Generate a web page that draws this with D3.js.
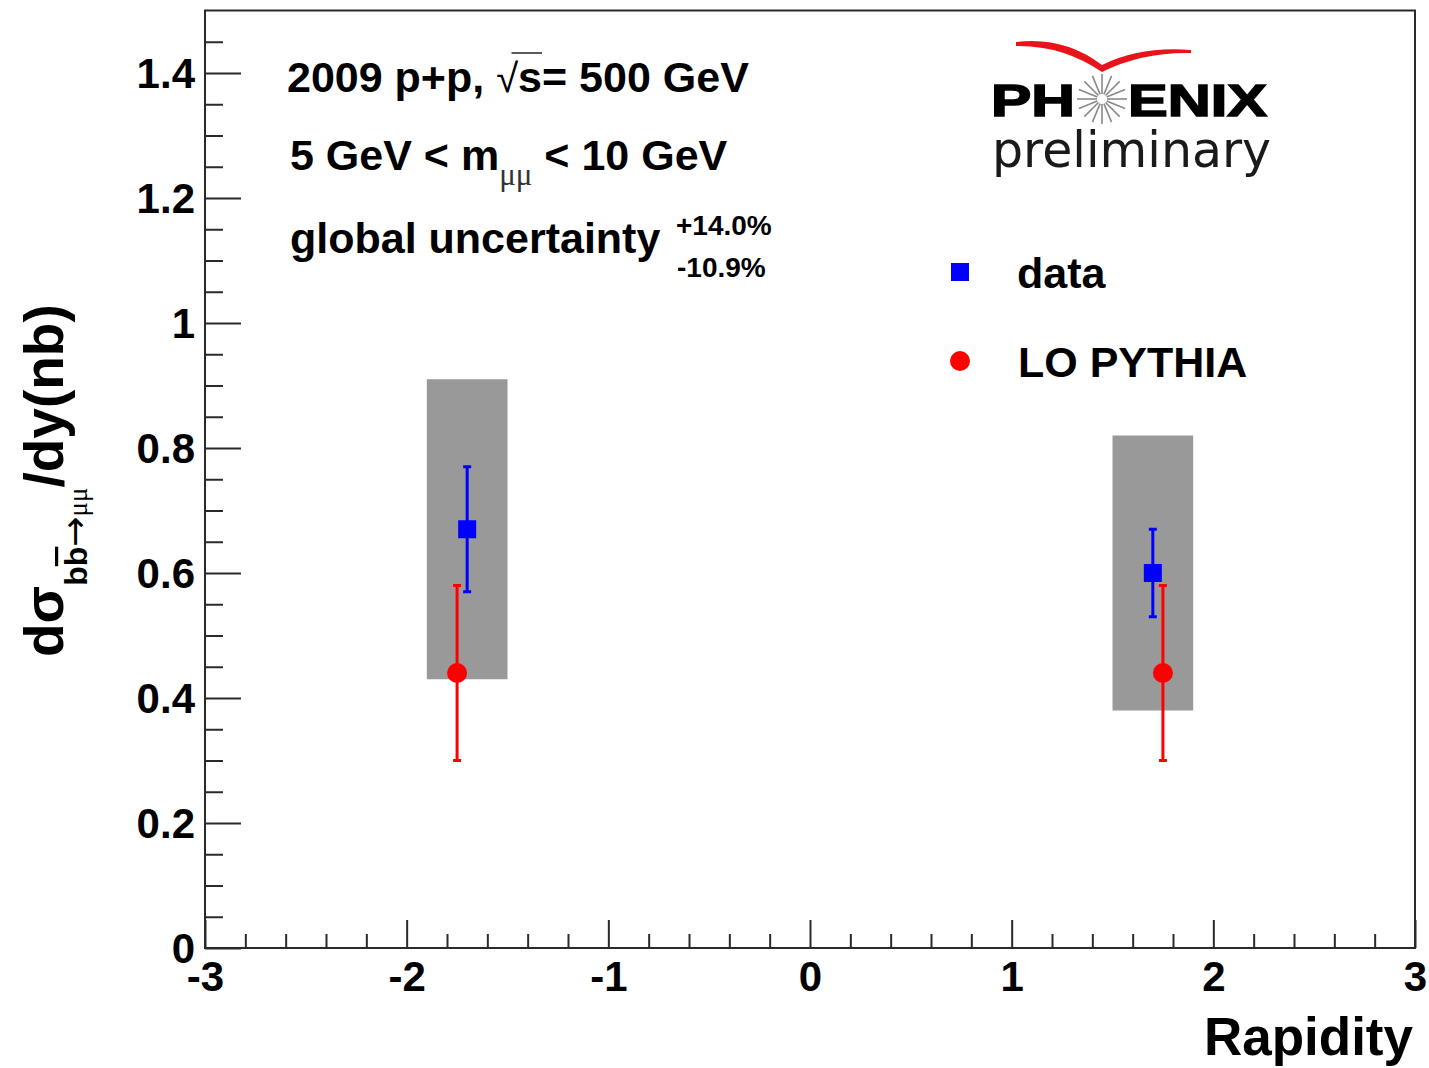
<!DOCTYPE html>
<html>
<head>
<meta charset="utf-8">
<script src="https://cdn.jsdelivr.net/npm/d3@7"></script>
<style>
  html, body { margin: 0; padding: 0; background: #fff; }
  svg { display: block; }
  text { font-family: "Liberation Sans", Arial, Helvetica, sans-serif; }
</style>
</head>
<body>
<svg id="chart" width="1429" height="1068"></svg>
<script>
// ---- data ----
const xTicks = [-3, -2, -1, 0, 1, 2, 3];
const yTicks = [0, 0.2, 0.4, 0.6, 0.8, 1.0, 1.2, 1.4];
const dataRapidity = [-1.7, 1.7];
const dataValue = [0.67, 0.60];
const dataError = [0.10, 0.07];
const sysXLow = [-1.9, 1.5];
const sysXHigh = [-1.5, 1.9];
const sysYLow = [0.43, 0.38];
const sysYHigh = [0.91, 0.82];
const pythiaRapidity = [-1.75, 1.75];
const pythiaValue = [0.44, 0.44];
const pythiaErrUp = [0.14, 0.14];
const pythiaErrDown = [0.14, 0.14];
const legendLabels = ["data", "LO PYTHIA"];

// ---- layout ----
const svg = d3.select("#chart");
const L = 205, R = 1415, T = 10.5, B = 948;
const x = d3.scaleLinear().domain([-3, 3]).range([L, R]);
const y = d3.scaleLinear().domain([0, 1.5]).range([B, T]);
const axisColor = "#2a2a2a";
const blue = "#0000ff", red = "#ff0000";

// frame
svg.append("rect").attr("x", L).attr("y", T).attr("width", R - L).attr("height", B - T)
  .attr("fill", "none").attr("stroke", axisColor).attr("stroke-width", 2);

// x axis
const xMinor = d3.range(-3, 3.001, 0.2).map(v => +v.toFixed(2)).filter(v => !xTicks.includes(v));
const gxm = svg.append("g").attr("transform", `translate(0,${B})`)
  .call(d3.axisBottom(x).tickValues(xMinor).tickSize(-14).tickFormat(""));
const gx = svg.append("g").attr("transform", `translate(0,${B})`)
  .call(d3.axisBottom(x).tickValues(xTicks).tickSize(-28).tickPadding(13).tickFormat(d => String(d)));
// y axis
const yMinor = d3.range(0, 1.5, 0.05).map(v => +v.toFixed(2)).filter(v => !yTicks.some(t => Math.abs(t - v) < 1e-6) && v > 0);
const gym = svg.append("g").attr("transform", `translate(${L},0)`)
  .call(d3.axisLeft(y).tickValues(yMinor).tickSize(-18).tickFormat(""));
const gy = svg.append("g").attr("transform", `translate(${L},0)`)
  .call(d3.axisLeft(y).tickValues(yTicks).tickSize(-36).tickPadding(10)
    .tickFormat(d => d === 0 ? "0" : String(+d.toFixed(1))));
[gx, gxm, gy, gym].forEach(g => {
  g.select(".domain").remove();
  g.selectAll(".tick line").attr("stroke", axisColor).attr("stroke-width", 2);
  g.selectAll(".tick text").attr("fill", "#000").attr("font-size", 42).attr("font-weight", "bold")
    .style("font-family", '"Liberation Sans", Arial, sans-serif');
});
gy.selectAll(".tick text").attr("dy", "0.34em");

// axis titles
svg.append("text").attr("x", 1413).attr("y", 1055).attr("text-anchor", "end")
  .attr("font-size", 53).attr("font-weight", "bold").text("Rapidity");

const yt = svg.append("text").attr("transform", "translate(63,657) rotate(-90)")
  .attr("font-size", 55).attr("font-weight", "bold");
yt.append("tspan").text("dσ");
yt.append("tspan").attr("dy", 24).attr("font-size", 32).text("b");
yt.append("tspan").attr("font-size", 32).style("text-decoration", "overline").text("b");
yt.append("tspan").attr("font-size", 36).attr("font-weight", "normal")
  .style("font-family", '"DejaVu Sans", sans-serif').text("→");
yt.append("tspan").attr("font-size", 27).attr("font-weight", "normal")
  .style("font-family", '"Liberation Serif", serif').text("μμ");
yt.append("tspan").attr("dy", -24).text("/dy(nb)");

// systematic boxes
const n = dataRapidity.length;
const idx = d3.range(n);
svg.append("g").selectAll("rect").data(idx).join("rect")
  .attr("x", i => x(sysXLow[i])).attr("width", i => x(sysXHigh[i]) - x(sysXLow[i]))
  .attr("y", i => y(sysYHigh[i])).attr("height", i => y(sysYLow[i]) - y(sysYHigh[i]))
  .attr("fill", "#999999");

// data error bars
const gd = svg.append("g");
gd.selectAll("line.bar").data(idx).join("line").attr("class", "bar")
  .attr("x1", i => x(dataRapidity[i])).attr("x2", i => x(dataRapidity[i]))
  .attr("y1", i => y(dataValue[i] + dataError[i])).attr("y2", i => y(dataValue[i] - dataError[i]))
  .attr("stroke", blue).attr("stroke-width", 3);
gd.selectAll("line.capu").data(idx).join("line").attr("class", "capu")
  .attr("x1", i => x(dataRapidity[i]) - 4).attr("x2", i => x(dataRapidity[i]) + 4)
  .attr("y1", i => y(dataValue[i] + dataError[i])).attr("y2", i => y(dataValue[i] + dataError[i]))
  .attr("stroke", blue).attr("stroke-width", 3);
gd.selectAll("line.capd").data(idx).join("line").attr("class", "capd")
  .attr("x1", i => x(dataRapidity[i]) - 4).attr("x2", i => x(dataRapidity[i]) + 4)
  .attr("y1", i => y(dataValue[i] - dataError[i])).attr("y2", i => y(dataValue[i] - dataError[i]))
  .attr("stroke", blue).attr("stroke-width", 3);
gd.selectAll("rect").data(idx).join("rect")
  .attr("x", i => x(dataRapidity[i]) - 9).attr("y", i => y(dataValue[i]) - 9)
  .attr("width", 18).attr("height", 18).attr("fill", blue);

// pythia
const gp = svg.append("g");
gp.selectAll("line.bar").data(idx).join("line").attr("class", "bar")
  .attr("x1", i => x(pythiaRapidity[i])).attr("x2", i => x(pythiaRapidity[i]))
  .attr("y1", i => y(pythiaValue[i] + pythiaErrUp[i])).attr("y2", i => y(pythiaValue[i] - pythiaErrDown[i]))
  .attr("stroke", red).attr("stroke-width", 3);
gp.selectAll("line.capu").data(idx).join("line").attr("class", "capu")
  .attr("x1", i => x(pythiaRapidity[i]) - 4).attr("x2", i => x(pythiaRapidity[i]) + 4)
  .attr("y1", i => y(pythiaValue[i] + pythiaErrUp[i])).attr("y2", i => y(pythiaValue[i] + pythiaErrUp[i]))
  .attr("stroke", red).attr("stroke-width", 3);
gp.selectAll("line.capd").data(idx).join("line").attr("class", "capd")
  .attr("x1", i => x(pythiaRapidity[i]) - 4).attr("x2", i => x(pythiaRapidity[i]) + 4)
  .attr("y1", i => y(pythiaValue[i] - pythiaErrDown[i])).attr("y2", i => y(pythiaValue[i] - pythiaErrDown[i]))
  .attr("stroke", red).attr("stroke-width", 3);
gp.selectAll("circle").data(idx).join("circle")
  .attr("cx", i => x(pythiaRapidity[i])).attr("cy", i => y(pythiaValue[i])).attr("r", 10).attr("fill", red);

// legend
svg.append("rect").attr("x", 951).attr("y", 263).attr("width", 18).attr("height", 18).attr("fill", blue);
svg.append("circle").attr("cx", 960).attr("cy", 361).attr("r", 10).attr("fill", red);
svg.append("text").attr("x", 1017).attr("y", 288).attr("font-size", 43).attr("font-weight", "bold").text(legendLabels[0]);
svg.append("text").attr("x", 1018).attr("y", 377).attr("font-size", 43).attr("font-weight", "bold").text(legendLabels[1]);

// annotation text
const t1 = svg.append("text").attr("x", 287).attr("y", 92).attr("font-size", 43).attr("font-weight", "bold");
t1.append("tspan").text("2009 p+p, ");
t1.append("tspan").attr("font-weight", "normal").attr("font-size", 40).text("√");
t1.append("tspan").text("s= 500 GeV");
// overline of the sqrt
{
  const node = t1.node();
  const s0 = node.getExtentOfChar(10), s1 = node.getExtentOfChar(11);
  svg.append("line").attr("x1", s0.x + s0.width * 0.7).attr("x2", s1.x + s1.width)
    .attr("y1", 53).attr("y2", 53).attr("stroke", "#000").attr("stroke-width", 1.3);
}
const t2 = svg.append("text").attr("x", 290).attr("y", 170).attr("font-size", 43).attr("font-weight", "bold");
t2.append("tspan").text("5 GeV < m");
t2.append("tspan").attr("dy", 15).attr("font-size", 31).attr("font-weight", "normal").attr("fill", "#333")
  .style("font-family", '"Liberation Serif", serif').text("μμ");
t2.append("tspan").attr("dy", -15).text(" < 10 GeV");
svg.append("text").attr("x", 290).attr("y", 253).attr("font-size", 43).attr("font-weight", "bold").text("global uncertainty");
svg.append("text").attr("x", 676).attr("y", 235).attr("font-size", 28).attr("font-weight", "bold").text("+14.0%");
svg.append("text").attr("x", 677).attr("y", 277).attr("font-size", 28).attr("font-weight", "bold").text("-10.9%");

// PHENIX logo
const logo = svg.append("g");
logo.append("text").attr("x", 991).attr("y", 116).attr("font-size", 44).attr("font-weight", 900)
  .attr("textLength", 84).attr("lengthAdjust", "spacingAndGlyphs")
  .attr("stroke", "#000").attr("stroke-width", 1.5).text("PH");
logo.append("text").attr("x", 1128).attr("y", 116).attr("font-size", 44).attr("font-weight", 900)
  .attr("textLength", 139).attr("lengthAdjust", "spacingAndGlyphs")
  .attr("stroke", "#000").attr("stroke-width", 1.5).text("ENIX");
const cx0 = 1102, cy0 = 99;
logo.append("g").selectAll("line").data(d3.range(16)).join("line")
  .attr("x1", k => cx0 + 5 * Math.cos(k * Math.PI / 8)).attr("y1", k => cy0 + 5 * Math.sin(k * Math.PI / 8))
  .attr("x2", k => cx0 + 25 * Math.cos(k * Math.PI / 8)).attr("y2", k => cy0 + 25 * Math.sin(k * Math.PI / 8))
  .attr("stroke", "#8a8a8a").attr("stroke-width", 1.6);
logo.append("path")
  .attr("d", "M1016,42 Q1064,36 1102,65 Q1140,46 1191,50 L1191,53 Q1142,52 1102,72 Q1062,45 1016,46 Z")
  .attr("fill", "#e8141c");
logo.append("text").attr("x", 992).attr("y", 167).attr("font-size", 49)
  .style("font-family", '"DejaVu Sans", Verdana, sans-serif').attr("fill", "#1a1a1a").text("preliminary");
</script>
</body>
</html>
